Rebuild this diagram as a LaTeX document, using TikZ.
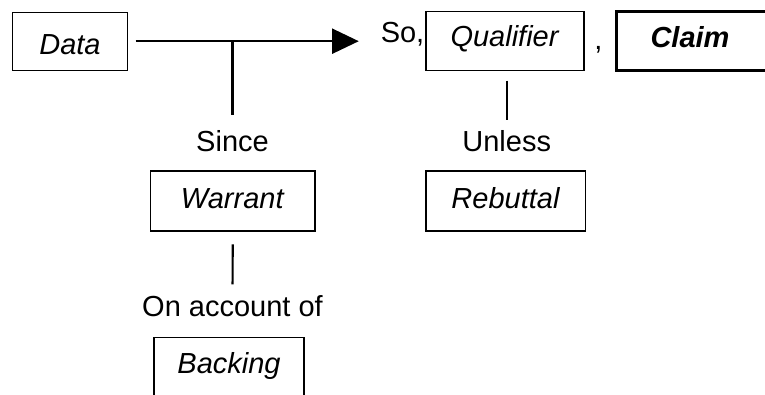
\documentclass[tikz,border=0pt]{standalone}
\usepackage{fontspec}
\setmainfont{Liberation Sans}
\usetikzlibrary{arrows.meta}

\tikzset{
	box/.style={draw, line width=1pt, inner sep=0pt, text depth=0pt, text height=#1},
	box/.default=10.8pt,
	word/.style={inner sep=0pt, anchor=base},
	link/.style={line width=1.6pt},
}

\begin{document}
\begin{tikzpicture}[x=0.75pt, y=-0.75pt, font=\fontsize{21.75}{26}\selectfont]
	\useasboundingbox (0,0) rectangle (765,395);
	\clip (0,0) rectangle (765,395);

	\node[box=20.5pt, minimum width=86.6pt, minimum height=43.5pt] (data) at (70,41.2) {\textit{Data}};
	\node[word, anchor=base west] (so) at (380.5,43) {So,};
	\node[box=8.25pt, minimum width=118.5pt, minimum height=44.25pt] (qual) at (505,41.2) {\textit{Qualifier}};
	\node[word, anchor=base west] (comma) at (594,49.5) {,};
	\node[box=10.5pt, line width=2.25pt, minimum height=44.25pt, anchor=west, text width=150pt, align=left, inner xsep=25.5pt] (claim) at (615,41) {\textbf{\textit{Claim}}};

	\node[word] (since) at (232.5,152) {Since};
	\node[box, minimum width=123.2pt, minimum height=45pt] (warrant) at (232.8,201) {\textit{Warrant}};
	\node[word] (account) at (232.5,316.7) {On account of};
	\node[box=11pt, minimum width=112.5pt, minimum height=43.5pt] (backing) at (229,366.3) {\textit{Backing}};

	\node[word] (unless) at (506.7,151.7) {Unless};
	\node[box, minimum width=119.8pt, minimum height=45pt] (rebuttal) at (505.8,201) {\textit{Rebuttal}};

	\coordinate (j) at (since.north |- data.east);

	\path [link, -{Triangle[length=20pt,width=18.75pt]}, shorten <=5.5pt, shorten >=16.3pt] (data.east) edge (data.east -| so.west);
	\path [link, shorten >=11.6pt] (j) edge (since.north);
	\path [link, shorten <=7pt, shorten >=7.7pt] (unless.north |- qual.south) edge (unless.north);
	\path [link, shorten <=9.5pt, shorten >=8.3pt] (warrant.south) edge (account.north);
\end{tikzpicture}
\end{document}
